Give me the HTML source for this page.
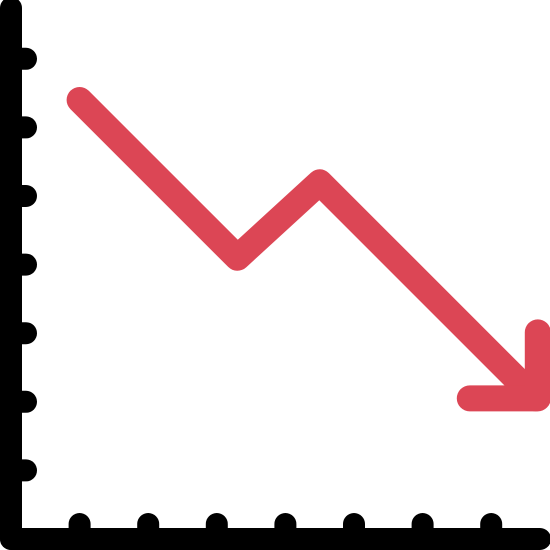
<!DOCTYPE html>
<html>
<head>
<meta charset="utf-8">
<style>
  html, body { margin: 0; padding: 0; background: #fff; }
  svg { display: block; }
</style>
</head>
<body>
<svg id="chart" width="550" height="550" viewBox="0 0 550 550" xmlns="http://www.w3.org/2000/svg">
  <g id="axes"></g>
  <g id="series"></g>
</svg>
<script>
// data: 0..8 on each axis; points of the trend line
const ticks = [1, 2, 3, 4, 5, 6, 7];
const xVals = [1.0, 3.3, 4.5, 7.65];
const yVals = [6.4, 4.1, 5.2, 2.05];

const NS = 'http://www.w3.org/2000/svg';
function xScale(v) { return 11 + v * 68.6; }
function yScale(v) { return 539 - v * 68.6; }

const axes = document.getElementById('axes');
const series = document.getElementById('series');

function line(parent, x1, y1, x2, y2, color, w) {
  const l = document.createElementNS(NS, 'line');
  l.setAttribute('x1', x1); l.setAttribute('y1', y1);
  l.setAttribute('x2', x2); l.setAttribute('y2', y2);
  l.setAttribute('stroke', color); l.setAttribute('stroke-width', w);
  l.setAttribute('stroke-linecap', 'round');
  parent.appendChild(l);
  return l;
}

const yAxis = line(axes, 11, 8, 11, 539, '#000', 22);


const xAxis = line(axes, 11, 539, 540, 539, '#000', 22);



ticks.forEach(function (t) {
  const ty = line(axes, 11, yScale(t), 26, yScale(t), '#000', 22);
  
  
  const tx = line(axes, xScale(t), 524, xScale(t), 539, '#000', 22);
  
  
});

const pts = xVals.map(function (v, i) { return xScale(v) + ',' + yScale(yVals[i]); }).join(' ');
const pl = document.createElementNS(NS, 'polyline');
pl.setAttribute('points', pts);
pl.setAttribute('fill', 'none');
pl.setAttribute('stroke', '#dc4655');
pl.setAttribute('stroke-width', '26');
pl.setAttribute('stroke-linecap', 'round');
pl.setAttribute('stroke-linejoin', 'round');


series.appendChild(pl);

// arrow head at the last point
const lx = xScale(xVals[xVals.length - 1]);
const ly = yScale(yVals[yVals.length - 1]);
const head = document.createElementNS(NS, 'polyline');
head.setAttribute('points', (lx + 2) + ',' + (ly - 66) + ' ' + (lx + 2) + ',' + ly + ' ' + (lx - 66) + ',' + ly);
head.setAttribute('fill', 'none');
head.setAttribute('stroke', '#dc4655');
head.setAttribute('stroke-width', '26');
head.setAttribute('stroke-linecap', 'round');
head.setAttribute('stroke-linejoin', 'round');


series.appendChild(head);
</script>
</body>
</html>
